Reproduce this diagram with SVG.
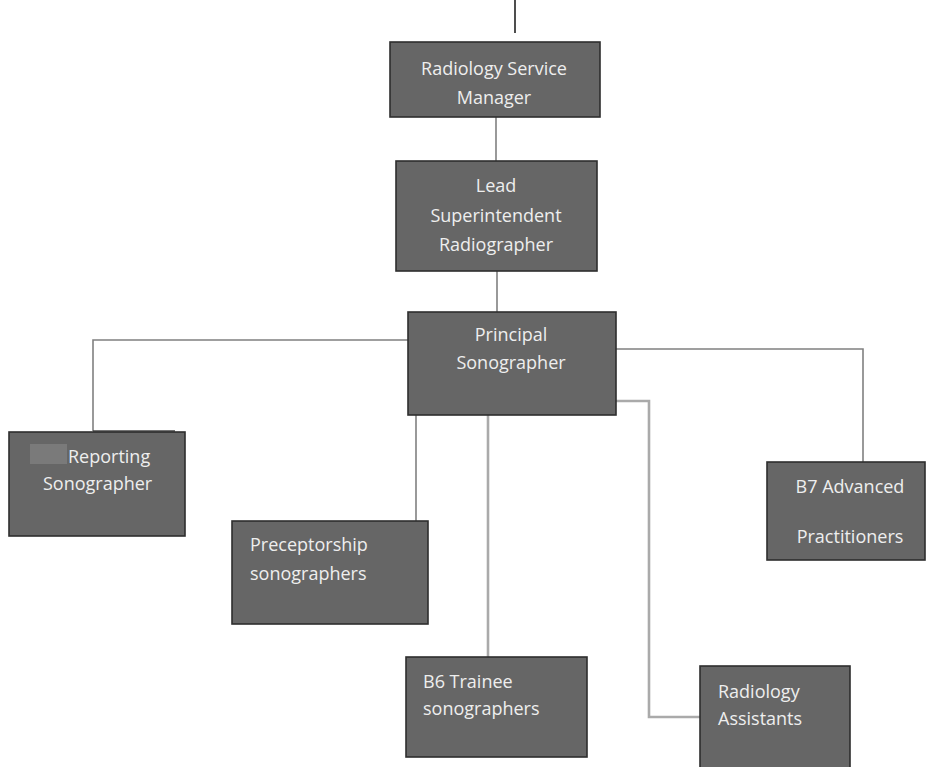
<svg xmlns="http://www.w3.org/2000/svg" width="926" height="767" viewBox="0 0 926 767">
<style>
.box{fill:#666;stroke:#2e2e2e;stroke-width:1.6}
.t{font-family:"Open Sans","Liberation Sans",sans-serif;font-size:18px;fill:#eeeeee}
.c{text-anchor:middle}
.ln{fill:none;stroke:#808080;stroke-width:1.6}
.ln2{fill:none;stroke:#aaaaaa;stroke-width:2.6}
</style>
<rect width="926" height="767" fill="#ffffff"/>
<g id="connectors">
<line x1="515" y1="0" x2="515" y2="33" stroke="#222" stroke-width="1.6"/>
<line class="ln" x1="496" y1="117" x2="496" y2="161"/>
<line class="ln" x1="497" y1="271" x2="497" y2="312"/>
<polyline class="ln" points="408,340 93,340 93,431"/>
<line x1="93" y1="431" x2="175" y2="431" stroke="#444" stroke-width="1.4"/>
<polyline class="ln" points="616,349 863,349 863,462"/>
<polyline class="ln2" points="616,401 649,401 649,717 700,717"/>
<line class="ln" x1="416" y1="415" x2="416" y2="521"/>
<line class="ln2" x1="488" y1="415" x2="488" y2="657"/>
</g>
<g id="radiology-service-manager">
<rect class="box" x="390" y="42" width="210" height="75"/>
<text class="t c" x="494" y="75">Radiology Service</text>
<text class="t c" x="494" y="104">Manager</text>
</g>
<g id="lead-superintendent">
<rect class="box" x="396" y="161" width="201" height="110"/>
<text class="t c" x="496" y="192">Lead</text>
<text class="t c" x="496" y="222">Superintendent</text>
<text class="t c" x="496" y="251">Radiographer</text>
</g>
<g id="principal-sonographer">
<rect class="box" x="408" y="312" width="208" height="103"/>
<text class="t c" x="511" y="341">Principal</text>
<text class="t c" x="511" y="369">Sonographer</text>
</g>
<g id="reporting-sonographer">
<rect class="box" x="9" y="432" width="176" height="104"/>
<rect x="30" y="444" width="37" height="20" fill="#7a7a7a"/>
<text class="t" x="68" y="463">Reporting</text>
<text class="t" x="43" y="490">Sonographer</text>
</g>
<g id="b7-advanced-practitioners">
<rect class="box" x="767" y="462" width="158" height="98"/>
<text class="t c" x="850" y="493">B7 Advanced</text>
<text class="t c" x="850" y="543">Practitioners</text>
</g>
<g id="preceptorship-sonographers">
<rect class="box" x="232" y="521" width="196" height="103"/>
<text class="t" x="250" y="551">Preceptorship</text>
<text class="t" x="250" y="580">sonographers</text>
</g>
<g id="b6-trainee-sonographers">
<rect class="box" x="406" y="657" width="181" height="100"/>
<text class="t" x="423" y="688">B6 Trainee</text>
<text class="t" x="423" y="715">sonographers</text>
</g>
<g id="radiology-assistants">
<rect class="box" x="700" y="666" width="150" height="110"/>
<text class="t" x="718" y="698">Radiology</text>
<text class="t" x="718" y="725">Assistants</text>
</g>
</svg>
